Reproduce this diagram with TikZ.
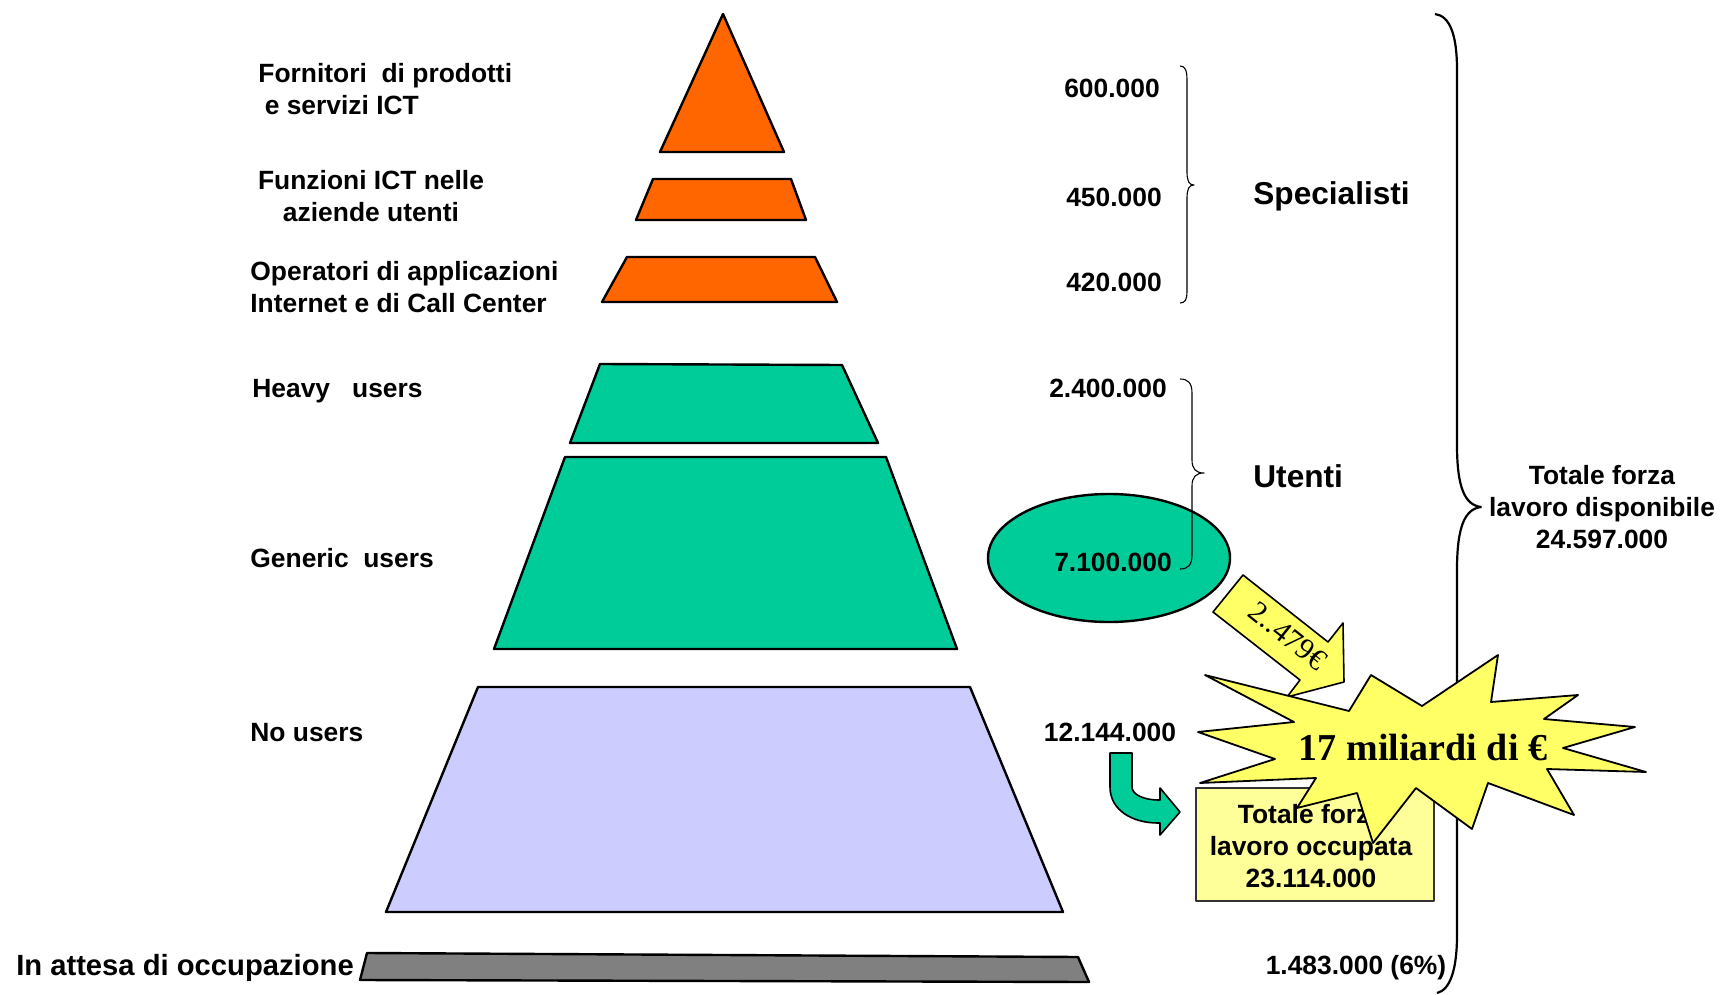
\documentclass[tikz,border=0pt]{standalone}
\usepackage{fontspec}
\setmainfont{Liberation Sans}
\newfontfamily\timesf{Liberation Serif}
\usetikzlibrary{shapes.geometric}
\definecolor{orangel}{HTML}{FF6600}
\definecolor{greenl}{HTML}{00CC99}
\definecolor{lavl}{HTML}{CCCCFF}
\definecolor{grayl}{HTML}{808080}
\definecolor{stary}{HTML}{FFFF66}
\definecolor{boxy}{HTML}{FFFF99}
\begin{document}
\begin{tikzpicture}[x=0.5pt,y=-0.5pt,line join=round,
  lbl/.style={font=\fontsize{13.2}{16}\selectfont\bfseries,inner sep=0pt},
  grp/.style={font=\fontsize{15.8}{19}\selectfont\bfseries,inner sep=0pt},
  layer/.style={draw=black,line width=1.2pt},
  brc/.style={draw=black,line width=0.55pt},
  bigbrc/.style={draw=black,line width=1.1pt}]
\useasboundingbox (0,0) rectangle (1720,995);
% pyramid layers
\path[layer,fill=orangel] (723,14) -- (784,152) -- (660,152) -- cycle;
\path[layer,fill=orangel] (653,179) -- (791,179) -- (806,220) -- (636,220) -- cycle;
\path[layer,fill=orangel] (627,257) -- (815,257) -- (837,302) -- (602,302) -- cycle;
\path[layer,fill=greenl] (600,364) -- (842,365) -- (878,443) -- (570,443) -- cycle;
\path[layer,fill=greenl] (565,457) -- (886,457) -- (957,649) -- (494,649) -- cycle;
\path[layer,fill=lavl] (478,687) -- (970,687) -- (1063,912) -- (386,912) -- cycle;
\path[layer,fill=grayl] (367,953) -- (1078,957) -- (1089,982) -- (360,980) -- cycle;
% left labels
\node[lbl,anchor=west,align=left] (forn) at (258,89) {Fornitori\ \ di prodotti\\\hspace{3.2pt}e servizi ICT};
\node[lbl,align=center] (funz) at (371,196) {Funzioni ICT nelle\\aziende utenti};
\node[lbl,anchor=west,align=left] (oper) at (250,287) {Operatori di applicazioni\\Internet e di Call Center};
\node[lbl,anchor=west] (heavy) at (252,391) {Heavy\ \ \ users};
\node[lbl,anchor=west] (gen) at (250,558) {Generic\ \ users};
\node[lbl,anchor=west] (nous) at (250,733) {No users};
\node[inner sep=0pt,font=\fontsize{14.6}{17}\selectfont\bfseries] (att) at (185,968) {In attesa di occupazione};
% ellipse
\node[ellipse,draw=black,fill=greenl,line width=1.2pt,minimum width=121pt,minimum height=64pt,inner sep=0pt] (ell) at (1109,558) {};
% numbers
\node[lbl] (n1) at (1112,88) {600.000};
\node[lbl] (n2) at (1114,197) {450.000};
\node[lbl] (n3) at (1114,282) {420.000};
\node[lbl] (n4) at (1108,388) {2.400.000};
\node[lbl] (n5) at (1113,562) {7.100.000};
\node[lbl] (n6) at (1110,732) {12.144.000};
\node[lbl] (n7) at (1356,968) {1.483.000 (6\%)};
% group labels
\node[grp,anchor=west] (spec) at (1253,196) {Specialisti};
\node[grp,anchor=west] (ute) at (1253,476) {Utenti};
\node[lbl,align=center] (tot) at (1602,507) {Totale forza\\lavoro disponibile\\24.597.000};
% small braces
\path[brc] (1180,66) .. controls (1185,66) and (1187,70) .. (1187,80) -- (1187,172)
  .. controls (1187,181) and (1189,185) .. (1194,185)
  .. controls (1189,185) and (1187,189) .. (1187,198) -- (1187,291)
  .. controls (1187,300) and (1185,303) .. (1180,303);
\path[brc] (1180,379) .. controls (1188,379) and (1192,383) .. (1192,393) -- (1192,460)
  .. controls (1192,469) and (1196,473) .. (1204,473)
  .. controls (1196,473) and (1192,477) .. (1192,486) -- (1192,555)
  .. controls (1192,565) and (1188,569) .. (1180,569);
% yellow arrow with value
\path[draw=black,line width=0.8pt,fill=stary] (1243,575) -- (1328,642) -- (1343,623) -- (1344,682)
  -- (1287,697) -- (1300,680) -- (1213,612) -- cycle;
\node[inner sep=0pt,rotate=-38.5,font=\timesf\fontsize{15}{17}\selectfont] (eur) at (1288,636) {2..479€};
% big brace
\path[bigbrc] (1435,14) .. controls (1450,16) and (1457,35) .. (1457,70) -- (1457,445)
  .. controls (1457,488) and (1465,505) .. (1481,507)
  .. controls (1465,509) and (1457,526) .. (1457,570) -- (1457,935)
  .. controls (1457,970) and (1450,990) .. (1437,993);
% yellow box
\node[draw=black!80,line width=0.6pt,fill=boxy,minimum width=119pt,minimum height=56.5pt,inner sep=0pt] (box) at (1315,844.5) {};
\node[lbl,align=center] (boxt) at (1311,846) {Totale forza\\lavoro occupata\\23.114.000};
% green bent arrow
\path[draw=black,line width=0.8pt,fill=greenl] (1110,753) -- (1132,753) -- (1132,787)
  .. controls (1132,795) and (1145,800) .. (1158,800) -- (1160,800) -- (1160,788) -- (1180,812)
  -- (1160,835) -- (1160,823) -- (1158,823)
  .. controls (1132,823) and (1110,810) .. (1110,787) -- cycle;
% star
\path[draw=black,line width=0.9pt,fill=stary] (1198,732) -- (1275,759) -- (1200,783) -- (1316,778)
  -- (1297,808) -- (1357,793) -- (1373,843) -- (1416,788) -- (1472,829) -- (1488,783)
  -- (1574,815) -- (1547,769) -- (1646,772) -- (1563,748) -- (1635,727) -- (1544,719)
  -- (1578,695) -- (1491,702) -- (1498,655) -- (1422,706) -- (1371,675) -- (1349,711)
  -- (1205,675) -- (1294,722) -- cycle;
\node[inner sep=0pt,font=\timesf\fontsize{19}{22}\selectfont\bfseries] (bil) at (1423,747) {17 miliardi di €};
\end{tikzpicture}
\end{document}
